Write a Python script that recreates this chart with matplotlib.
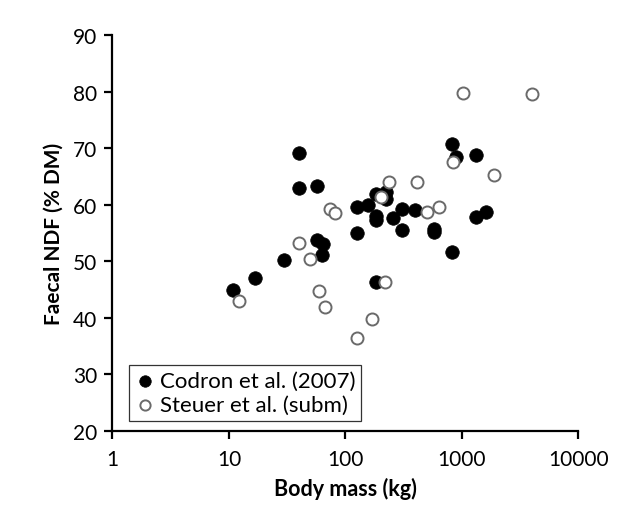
import matplotlib.pyplot as plt

# Codron et al. (2007) - filled circles
codron_mass = [10.9, 16.9, 29.9, 40.0, 40.0, 57.1, 57.5, 63.7, 63.4, 125, 125,
               158, 185, 224, 224, 185, 185, 258, 305, 393, 305, 578, 578,
               184, 830, 893, 1334, 1327, 1601, 830]
codron_ndf = [44.9, 47.0, 50.3, 69.1, 62.9, 63.3, 53.7, 53.0, 51.1, 59.6, 55.1,
              60.0, 61.9, 62.2, 61.0, 58.0, 57.3, 57.7, 59.2, 59.1, 55.5, 55.8, 55.2,
              46.4, 70.7, 68.4, 68.9, 57.8, 58.8, 51.7]

# Steuer et al. (subm) - open circles
steuer_mass = [12.1, 40.0, 50.2, 59.8, 66.5, 73.9, 81.5, 125, 171, 219, 201,
               235, 411, 506, 635, 847, 1016, 4042, 1905]
steuer_ndf = [42.9, 53.3, 50.5, 44.7, 41.9, 59.2, 58.5, 36.4, 39.8, 46.3, 61.3,
              64.0, 64.1, 58.8, 59.7, 67.6, 79.8, 79.6, 65.2]

yticks = [20, 30, 40, 50, 60, 70, 80, 90]
xticks = [1, 10, 100, 1000, 10000]
xtick_labels = ["1", "10", "100", "1000", "10000"]

plt.rcParams['font.family'] = ['Lato', 'DejaVu Sans']

fig = plt.figure(figsize=(6.19, 5.10), dpi=100)
ax = fig.add_axes([0.1817, 0.153, 0.7523, 0.776])

ax.scatter(codron_mass, codron_ndf, s=95, facecolor='black', edgecolor='black',
           linewidth=0.5, label="Codron et al. (2007)", zorder=3)
ax.scatter(steuer_mass, steuer_ndf, s=75, facecolor='white', edgecolor='#6a6a6a',
           linewidth=1.4, label="Steuer et al. (subm)", zorder=3)

ax.set_xscale('log')
ax.set_xlim(1, 10000)
ax.set_ylim(20, 90)
ax.set_xticks(xticks)
ax.set_xticklabels(xtick_labels)
ax.xaxis.set_minor_locator(plt.NullLocator())
ax.set_yticks(yticks)

for side in ['top', 'right']:
    ax.spines[side].set_visible(False)
for side in ['left', 'bottom']:
    ax.spines[side].set_linewidth(1.6)
    ax.spines[side].set_color('black')
ax.tick_params(axis='both', direction='out', length=6, width=1.6,
               labelsize=15, colors='black', pad=5)
ax.tick_params(axis='x', pad=7)

ax.set_xlabel("Body mass (kg)", fontsize=15.5, fontweight='bold', labelpad=6)
ax.set_ylabel("Faecal NDF (% DM)", fontsize=15, fontweight='bold', labelpad=7)

leg = ax.legend(loc='lower left', bbox_to_anchor=(0.035, 0.026), fontsize=16,
                frameon=True, fancybox=False, edgecolor='black', markerscale=0.85,
                handletextpad=0.15, borderpad=0.25, labelspacing=0.2, borderaxespad=0,
                handlelength=1.0)
leg.get_frame().set_linewidth(0.9)

fig.savefig("out.png", dpi=100)
